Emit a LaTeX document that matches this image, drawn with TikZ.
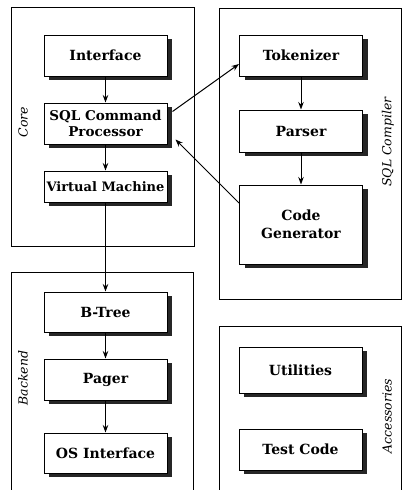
\documentclass[tikz,border=0pt]{standalone}
\usepackage{fontspec}
\setmainfont{DejaVu Serif}
\usetikzlibrary{shadows,arrows.meta}
\begin{document}
\begin{tikzpicture}[x=1pt,y=-1pt,
  module/.style={draw=black, line width=1pt, fill=white,
    minimum width=123pt, minimum height=41pt, inner sep=0pt, align=center,
    font=\fontsize{14}{17}\selectfont\bfseries,
    drop shadow={shadow xshift=5pt, shadow yshift=-4pt, fill=black!85, opacity=1}},
  group/.style={draw=black, line width=1pt},
  grouplabel/.style={rotate=90, font=\fontsize{12.5}{15}\selectfont\itshape},
  flow/.style={-{Stealth[length=7.5pt,width=5.5pt]}, line width=1pt}
]
\useasboundingbox[fill=white] (0,0) rectangle (403,490);

% subsystem frames
\draw[group] (11,7) rectangle (194,246);
\draw[group] (219,8) rectangle (401,299);
\draw[group] (11,490) |- (193,272) -- (193,490);
\draw[group] (219,490) |- (401,326) -- (401,490);

% frame captions
\node[grouplabel] (lcore) at (23,122) {Core};
\node[grouplabel] (lsql) at (388,142) {SQL Compiler};
\node[grouplabel] (lback) at (23,378) {Backend};
\node[grouplabel] (lacc) at (387,416) {Accessories};

% core
\node[module] (iface) at (105.5,55.5) {Interface};
\node[module, font=\fontsize{13.5}{16}\selectfont\bfseries] (sqlcp) at (105.5,123.5) {SQL Command\\Processor};
\node[module, minimum height=31pt, font=\fontsize{13}{16}\selectfont\bfseries] (vm) at (105.5,186.5) {Virtual Machine};

% sql compiler
\node[module] (tok) at (301,55.5) {Tokenizer};
\node[module, minimum height=42pt] (parser) at (301,131) {Parser};
\node[module, minimum height=79pt, font=\fontsize{14}{18}\selectfont\bfseries] (codegen) at (301,224.5) {Code\\Generator};

% backend
\node[module, minimum height=40pt] (btree) at (105.5,312) {B-Tree};
\node[module] (pager) at (105.5,379.5) {Pager};
\node[module, minimum height=40pt] (osif) at (105.5,453) {OS Interface};

% accessories
\node[module, minimum height=46pt] (util) at (300.5,370) {Utilities};
\node[module] (test) at (300.5,449.5) {Test Code};

% data flow
\draw[flow] (iface) -- (sqlcp);
\draw[flow] (sqlcp) -- (vm);
\draw[flow] (vm) -- (btree);
\draw[flow] (tok) -- (parser);
\draw[flow] (parser) -- (codegen);
\draw[flow] (btree) -- (pager);
\draw[flow] (pager) -- (osif);
\draw[flow] ([xshift=5pt,yshift=12pt]sqlcp.east) -- ([yshift=-8.5pt]tok.west);
\draw[flow] ([yshift=21.5pt]codegen.west) -- ([xshift=8pt,yshift=5pt]sqlcp.south east);
\end{tikzpicture}
\end{document}
